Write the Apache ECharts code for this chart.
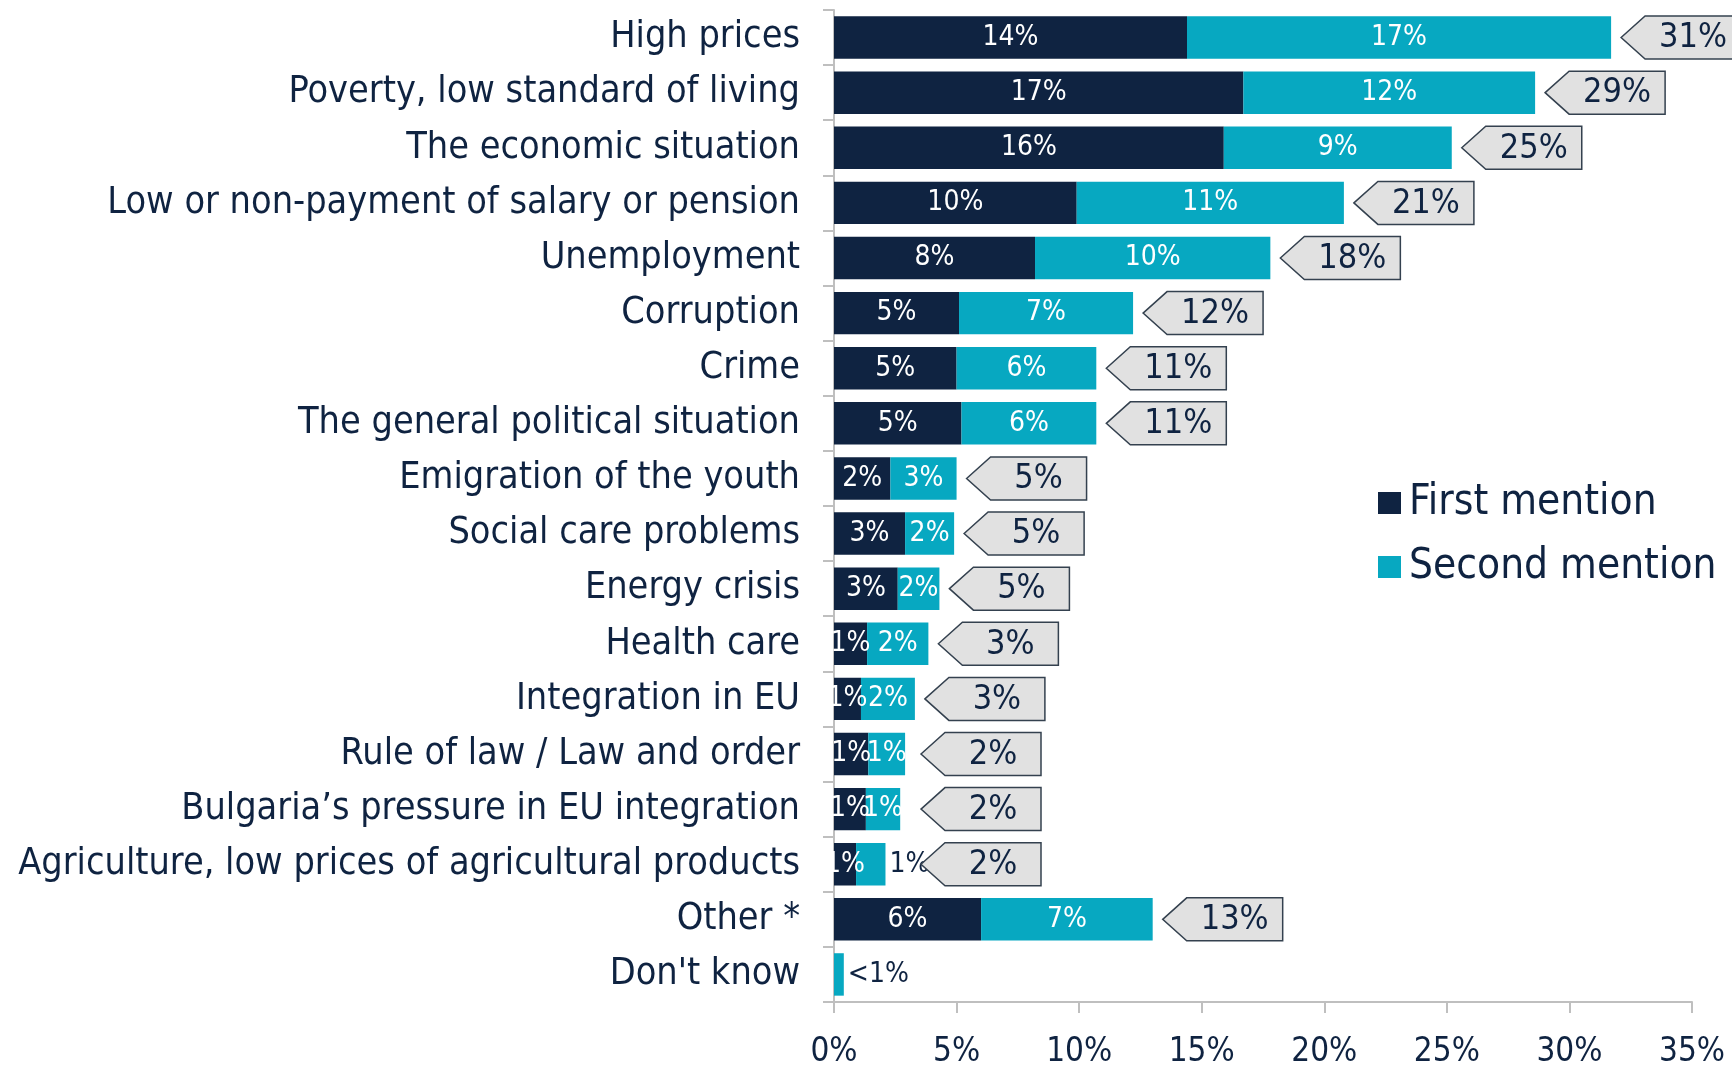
<!DOCTYPE html>
<html>
<head>
<meta charset="utf-8">
<script src="https://cdn.jsdelivr.net/npm/echarts@6/dist/echarts.min.js"></script>
<style>
  html, body { margin: 0; padding: 0; background: #fff; }
  #chart { width: 1732px; height: 1065px; }
</style>
</head>
<body>
<div id="chart"></div>
<script>
// 分类与数据
var categories = [
    'High prices',
    'Poverty, low standard of living',
    'The economic situation',
    'Low or non-payment of salary or pension',
    'Unemployment',
    'Corruption',
    'Crime',
    'The general political situation',
    'Emigration of the youth',
    'Social care problems',
    'Energy crisis',
    'Health care',
    'Integration in EU',
    'Rule of law / Law and order',
    'Bulgaria\u2019s pressure in EU integration',
    'Agriculture, low prices of agricultural products',
    'Other *',
    "Don't know"
];
var firstValues  = [14.4, 16.7, 15.9, 9.9, 8.2, 5.1, 5.0, 5.2, 2.3, 2.9, 2.6, 1.35, 1.1, 1.4, 1.3, 0.9, 6.0, 0];
var secondValues = [17.3, 11.9, 9.3, 10.9, 9.6, 7.1, 5.7, 5.5, 2.7, 2.0, 1.7, 2.5, 2.2, 1.5, 1.4, 1.2, 7.0, 0.4];
var firstLabels  = ['14%','17%','16%','10%','8%','5%','5%','5%','2%','3%','3%','1%','1%','1%','1%','1%','6%',''];
var secondLabels = ['17%','12%','9%','11%','10%','7%','6%','6%','3%','2%','2%','2%','2%','1%','1%','1%','7%','<1%'];
var totalLabels  = ['31%','29%','25%','21%','18%','12%','11%','11%','5%','5%','5%','3%','3%','2%','2%','2%','13%',''];
var outsideRows  = [15, 17];   // 第二项标签放在柱子外面
var xTicks = [0, 35, 5];       // min, max, interval

var FONT = "'DejaVu Sans Condensed', 'DejaVu Sans', sans-serif";
var NAVY = '#0f2341';
var TEAL = '#07a8c1';

var chart = echarts.init(document.getElementById('chart'));

// 第二项数据（部分标签在外侧）
var secondData = secondValues.map(function(v, i){
    if (outsideRows.indexOf(i) > -1) {
        return { value: v, label: { position: 'right', color: NAVY, distance: 4 } };
    }
    return v;
});

// 总计箭头框数据
var calloutData = [];
totalLabels.forEach(function(t, i){
    if (t) calloutData.push([firstValues[i] + secondValues[i], i, t]);
});

function renderCallout(params, api){
    var row = api.value(1);
    var end = api.coord([api.value(0), row]);
    var zero = api.coord([0, row]);
    var h = api.size([0, 1])[1] * 0.78;
    var tip = Math.max(end[0] + 10, zero[0] + 87);
    var y = end[1];
    var top = y - h / 2, bot = y + h / 2;
    var bodyX = tip + 24, right = tip + 120;
    return {
        type: 'group',
        children: [
            {
                type: 'polygon',
                shape: { points: [[tip, y], [bodyX, top], [right, top], [right, bot], [bodyX, bot]] },
                style: { fill: '#e1e1e1', stroke: '#34414f', lineWidth: 1.5 }
            },
            {
                type: 'text',
                style: {
                    text: calloutData[params.dataIndex][2],
                    x: (bodyX + right) / 2, y: y + 1,
                    align: 'center', verticalAlign: 'middle',
                    fontSize: 34, fontFamily: FONT, fill: NAVY
                }
            }
        ]
    };
}

var option = {
    animation: false,
    backgroundColor: '#fff',
    textStyle: { fontFamily: FONT },
    grid: { left: 834, right: 40, top: 10, bottom: 63, containLabel: false, outerBoundsMode: 'none' },
    legend: {
        orient: 'vertical',
        left: 1373,
        top: 476,
        icon: 'rect',
        itemWidth: 23,
        itemHeight: 22,
        itemGap: 20,
        textStyle: { fontSize: 42, color: NAVY, fontFamily: FONT, lineHeight: 44, padding: [0, 0, 0, 3] },
        data: ['First mention', 'Second mention']
    },
    xAxis: {
        type: 'value',
        min: xTicks[0], max: xTicks[1], interval: xTicks[2],
        splitLine: { show: false },
        axisLine: { show: true, lineStyle: { color: '#bfbfbf', width: 2 } },
        axisTick: { show: true, length: 11, lineStyle: { color: '#bfbfbf', width: 2 } },
        axisLabel: { formatter: '{value}%', fontSize: 33, color: NAVY, fontFamily: FONT, margin: 34 }
    },
    yAxis: {
        type: 'category',
        inverse: true,
        data: categories,
        axisLine: { show: true, lineStyle: { color: '#bfbfbf', width: 2 } },
        axisTick: { show: true, length: 11, lineStyle: { color: '#bfbfbf', width: 2 } },
        axisLabel: { fontSize: 37.5, color: NAVY, fontFamily: FONT, margin: 34, padding: [4, 0, 0, 0] }
    },
    series: [
        {
            name: 'First mention',
            type: 'bar',
            stack: 'total',
            barCategoryGap: '23%',
            itemStyle: { color: NAVY },
            label: {
                show: true, position: 'inside', color: '#fff', fontSize: 28, fontFamily: FONT,
                formatter: function(p){ return firstLabels[p.dataIndex]; }
            },
            data: firstValues
        },
        {
            name: 'Second mention',
            type: 'bar',
            stack: 'total',
            itemStyle: { color: TEAL },
            label: {
                show: true, position: 'inside', color: '#fff', fontSize: 28, fontFamily: FONT,
                formatter: function(p){ return secondLabels[p.dataIndex]; }
            },
            data: secondData
        },
        {
            name: 'total',
            type: 'custom',
            clip: false,
            renderItem: renderCallout,
            encode: { x: 0, y: 1 },
            data: calloutData,
            z: 5
        }
    ]
};

chart.setOption(option);
</script>
</body>
</html>
